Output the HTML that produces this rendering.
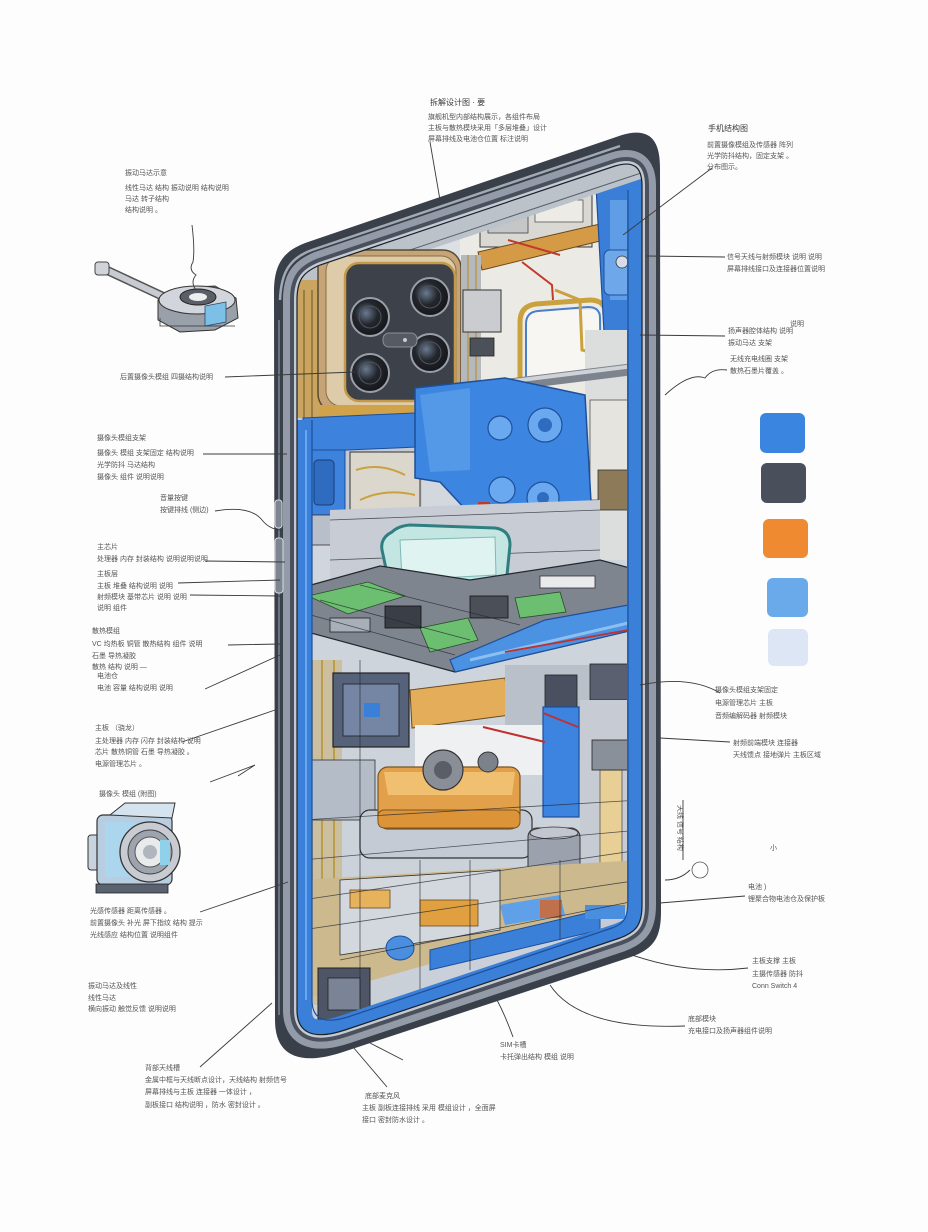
<!DOCTYPE html>
<html><head><meta charset="utf-8">
<style>
html,body{margin:0;padding:0;background:#fdfdfd;}
svg{display:block;}
text{font-family:"Liberation Sans","Noto Sans CJK SC",sans-serif;fill:#555;font-size:7px;}
.t{font-size:8px;fill:#3a3a3a;}
.ld{fill:none;stroke:#3a3a3a;stroke-width:0.9;}
.ln{fill:none;stroke:#23272e;stroke-width:0.8;opacity:0.75;}
</style></head><body>
<svg width="928" height="1232" viewBox="0 0 928 1232" xmlns="http://www.w3.org/2000/svg">
<defs>
<clipPath id="ic"><path d="M 297,300 C 297,280 303,272 320,265 L 615,166 C 635,160 642,168 642,186 L 642,905 C 642,925 636,932 620,938 L 345,1030 C 312,1041 297,1032 297,1010 Z"/></clipPath>
<linearGradient id="bg1" x1="0" y1="0" x2="0" y2="1">
<stop offset="0" stop-color="#dfe2e6"/><stop offset="0.5" stop-color="#cfd5dc"/><stop offset="1" stop-color="#c9cfd8"/>
</linearGradient>
<radialGradient id="lens" cx="0.4" cy="0.4" r="0.6">
<stop offset="0" stop-color="#6a7a90"/><stop offset="0.5" stop-color="#23262c"/><stop offset="1" stop-color="#15171b"/>
</radialGradient>
</defs>
<rect width="928" height="1232" fill="#fdfdfd"/>

<!-- ===== PHONE BODY ===== -->
<path d="M 274,292 C 274,262 285,250 308,242 L 622,135 C 650,127 660,140 660,168 L 661,912 C 661,940 652,950 628,958 L 340,1053 C 298,1066 275,1055 275,1020 Z" fill="#3a404a"/>
<path d="M 297,300 C 297,280 303,272 320,265 L 615,166 C 635,160 642,168 642,186 L 642,905 C 642,925 636,932 620,938 L 345,1030 C 312,1041 297,1032 297,1010 Z" fill="none" stroke="#939ba8" stroke-width="28"/>
<path d="M 297,300 C 297,280 303,272 320,265 L 615,166 C 635,160 642,168 642,186 L 642,905 C 642,925 636,932 620,938 L 345,1030 C 312,1041 297,1032 297,1010 Z" fill="none" stroke="#4a515c" stroke-width="14"/>
<path d="M 297,300 C 297,280 303,272 320,265 L 615,166 C 635,160 642,168 642,186 L 642,905 C 642,925 636,932 620,938 L 345,1030 C 312,1041 297,1032 297,1010 Z" fill="none" stroke="#c3cad4" stroke-width="6"/>
<path d="M 280,300 C 281,272 290,258 312,250 L 620,146" fill="none" stroke="#b4bcc8" stroke-width="2.5" opacity="0.85"/>
<path d="M 279,320 L 279,1015" fill="none" stroke="#6c7482" stroke-width="2"/>
<rect x="275" y="538" width="8" height="55" rx="3" fill="#7d8591" stroke="#d8dce2" stroke-width="1"/>
<rect x="275" y="500" width="7" height="28" rx="3" fill="#7d8591" stroke="#d8dce2" stroke-width="1"/>

<g clip-path="url(#ic)">
<rect x="290" y="150" width="360" height="900" fill="url(#bg1)"/>

<polygon points="460,200 642,150 642,400 460,410" fill="#eceae5"/>
<rect x="480" y="195" width="112" height="52" fill="#d9d8d2" stroke="#3a3a3a" stroke-width="1"/>
<rect x="488" y="203" width="40" height="30" fill="#c4c6c8" stroke="#444" stroke-width="0.8"/>
<rect x="535" y="200" width="48" height="22" fill="#ecebe6" stroke="#555" stroke-width="0.8"/>
<polygon points="478,252 600,224 604,240 482,270" fill="#d59a45" stroke="#6a4a20" stroke-width="1"/>
<path d="M 508,240 L 560,255" stroke="#c23a2a" stroke-width="2" fill="none"/>
<path d="M 522,262 L 552,285 L 553,300" stroke="#c23a2a" stroke-width="2" fill="none"/>
<rect x="525" y="310" width="75" height="70" fill="#f7f6f2"/>
<path d="M 520,385 L 520,322 Q 520,306 536,304 L 590,300 Q 606,300 606,316 L 608,400" fill="none" stroke="#c9a13f" stroke-width="5"/>
<path d="M 526,385 L 526,324 Q 526,312 538,311 L 588,307 Q 600,307 600,318 L 601,400" fill="none" stroke="#4a7fc8" stroke-width="2"/>
<path d="M 555,290 L 580,300 L 582,350 L 600,355" fill="none" stroke="#c9a13f" stroke-width="3"/>
<polygon points="596,186 642,170 642,332 604,332" fill="#3b7ed8" stroke="#1d4f9a" stroke-width="1.2"/>
<rect x="610" y="200" width="20" height="100" fill="#5f9de6"/>
<rect x="604" y="250" width="36" height="45" rx="6" fill="#6ea8ea" stroke="#1d4f9a" stroke-width="1"/>
<circle cx="622" cy="262" r="6" fill="#d6dde8" stroke="#333" stroke-width="0.8"/>
<rect x="585" y="330" width="57" height="230" fill="#dcdddd"/>
<path d="M 505,385 L 642,368" stroke="#7d848e" stroke-width="12" fill="none"/>
<path d="M 505,382 L 642,365" stroke="#cfd3d8" stroke-width="4" fill="none"/>
<rect x="590" y="400" width="40" height="100" fill="#e6e4de" stroke="#555" stroke-width="0.8"/>
<rect x="598" y="470" width="30" height="40" fill="#8c7a58" stroke="#333" stroke-width="0.8"/>

<polygon points="290,270 650,150 650,176 290,296" fill="#bcc2ca"/>
<path d="M 290,290 L 650,170" stroke="#5a616c" stroke-width="1" fill="none"/>

<rect x="297" y="280" width="24" height="140" fill="#c9a560"/>
<path d="M 304,290 L 304,418 M 312,290 L 312,418" stroke="#6a5220" stroke-width="1"/>

<rect x="318" y="250" width="143" height="162" rx="18" fill="#c5a478" stroke="#5a4a30" stroke-width="1.5"/>
<rect x="326" y="256" width="130" height="150" rx="15" fill="#ddcba9" stroke="#8a6d3d" stroke-width="1"/>
<rect x="345" y="263" width="110" height="138" rx="14" fill="#3d4149" stroke="#c49a4a" stroke-width="2.5"/>
<g stroke="#9aa0a8" stroke-width="2">
<circle cx="370" cy="317" r="19" fill="url(#lens)"/>
<circle cx="430" cy="297" r="19" fill="url(#lens)"/>
<circle cx="430" cy="353" r="19" fill="url(#lens)"/>
<circle cx="370" cy="373" r="19" fill="url(#lens)"/>
</g>
<g fill="none" stroke="#50555e" stroke-width="1">
<circle cx="370" cy="317" r="11"/><circle cx="430" cy="297" r="11"/><circle cx="430" cy="353" r="11"/><circle cx="370" cy="373" r="11"/>
</g>
<rect x="383" y="333" width="34" height="14" rx="6" fill="#555a63" stroke="#8a9098" stroke-width="1"/>
<circle cx="405" cy="340" r="2" fill="#ccc"/>
<rect x="320" y="405" width="142" height="14" fill="#d0a24a"/>
<rect x="461" y="255" width="20" height="165" fill="#b5b8bd"/>
<path d="M 468,255 L 468,420 M 476,255 L 476,420" stroke="#b8922e" stroke-width="1.2"/>
<rect x="463" y="290" width="38" height="42" fill="#cbcccf" stroke="#333" stroke-width="1"/>
<rect x="470" y="338" width="24" height="18" fill="#4c5058" stroke="#222" stroke-width="0.8"/>

<rect x="297" y="418" width="125" height="125" fill="#c4cad3"/>
<polygon points="303,418 436,412 440,446 303,452" fill="#3d82dc" stroke="#1d4f9a" stroke-width="1"/>
<rect x="303" y="450" width="42" height="65" fill="#3d82dc" stroke="#1d4f9a" stroke-width="1"/>
<rect x="314" y="460" width="20" height="45" rx="4" fill="#2f6cc0" stroke="#173e7a" stroke-width="1"/>
<rect x="350" y="452" width="70" height="58" fill="#dcd7cc" stroke="#333" stroke-width="1"/>
<path d="M 356,470 Q 380,462 405,475 M 360,500 Q 385,488 415,495" stroke="#c9a13f" stroke-width="2" fill="none"/>
<rect x="305" y="515" width="110" height="30" fill="#b9bfc9" stroke="#333" stroke-width="0.8"/>

<polygon points="415,388 505,378 585,395 592,520 560,548 480,525 440,482 415,478" fill="#3c86e2" stroke="#1d4f9a" stroke-width="1.5"/>
<polygon points="420,395 470,388 470,470 430,472" fill="#5a9cea" opacity="0.8"/>
<circle cx="545" cy="425" r="17" fill="#6aa9f0" stroke="#1d4f9a" stroke-width="1.2"/>
<circle cx="545" cy="425" r="7" fill="#2f6cc0"/>
<circle cx="500" cy="428" r="12" fill="#6aa9f0" stroke="#1d4f9a" stroke-width="1.2"/>
<circle cx="543" cy="498" r="16" fill="#6aa9f0" stroke="#1d4f9a" stroke-width="1.2"/>
<circle cx="543" cy="498" r="6" fill="#2f6cc0"/>
<circle cx="502" cy="490" r="13" fill="#6aa9f0" stroke="#1d4f9a" stroke-width="1.2"/>
<rect x="478" y="502" width="12" height="22" fill="#c03a2a"/>

<polygon points="330,510 600,500 600,585 330,595" fill="#c8cdd5"/>
<path d="M 330,520 L 600,510 M 330,560 L 600,550" class="ln"/>
<path d="M 392,532 Q 380,538 382,550 L 388,578 Q 390,590 405,592 L 490,590 Q 505,588 507,575 L 510,545 Q 510,530 495,528 L 410,525 Q 398,526 392,532 Z" fill="#c3e6e2" stroke="#2f7f80" stroke-width="3"/>
<path d="M 400,540 L 495,537 L 496,575 L 402,580 Z" fill="#dff3f0" stroke="#7fb8b6" stroke-width="1"/>

<polygon points="300,588 380,566 470,580 600,560 712,590 710,612 455,672 300,630" fill="#7e858f" stroke="#23272e" stroke-width="1.2"/>
<polygon points="308,596 368,582 405,596 348,614" fill="#6cbf70" stroke="#2a4a2a" stroke-width="0.8"/>
<polygon points="420,628 468,618 478,640 430,652" fill="#6cbf70" stroke="#2a4a2a" stroke-width="0.8"/>
<polygon points="515,598 560,592 566,612 520,618" fill="#6cbf70" stroke="#2a4a2a" stroke-width="0.8"/>
<rect x="385" y="606" width="36" height="22" fill="#3a3e46" stroke="#111" stroke-width="0.8"/>
<rect x="470" y="596" width="38" height="22" fill="#4a4f58" stroke="#111" stroke-width="0.8"/>
<rect x="540" y="576" width="55" height="12" fill="#e8eaec" stroke="#333" stroke-width="0.8"/>
<rect x="330" y="618" width="40" height="14" fill="#a9afb8" stroke="#222" stroke-width="0.8"/>
<path d="M 300,612 L 455,655 M 320,600 L 470,640 M 360,585 L 520,625" class="ln"/>
<polygon points="545,620 712,590 710,612 455,672 450,660" fill="#4b92e2" stroke="#1d4f9a" stroke-width="1.2"/>
<path d="M 470,660 L 705,605" stroke="#8cc0f0" stroke-width="3" fill="none"/>
<path d="M 505,652 L 662,624" stroke="#c03030" stroke-width="1.8" fill="none"/>
<path d="M 630,566 L 688,574 L 690,590" stroke="#c03030" stroke-width="2" fill="none"/>
<path d="M 640,638 L 692,646 L 694,656" stroke="#c03030" stroke-width="2" fill="none"/>

<rect x="302" y="660" width="40" height="345" fill="#cbbf9f"/>
<path d="M 312,660 L 312,990 M 322,660 L 322,990 M 334,660 L 334,990" stroke="#b8922e" stroke-width="1.5"/>
<path d="M 306,600 L 306,900" stroke="#5aa060" stroke-width="3"/>
<rect x="333" y="673" width="76" height="74" fill="#56627a" stroke="#222" stroke-width="1.2"/>
<rect x="343" y="684" width="56" height="52" fill="#7586a4" stroke="#2a2f3a" stroke-width="1"/>
<rect x="364" y="703" width="16" height="14" fill="#3a7fd8"/>
<polygon points="410,690 505,678 510,715 412,728" fill="#e4ad5a" stroke="#6a4a20" stroke-width="1"/>
<rect x="505" y="665" width="135" height="95" fill="#b9c0ca"/>
<rect x="545" y="675" width="32" height="34" fill="#4a5060" stroke="#222" stroke-width="0.8"/>
<rect x="590" y="664" width="38" height="36" fill="#5a6070" stroke="#222" stroke-width="0.8"/>
<rect x="415" y="725" width="130" height="50" fill="#eef0f2"/>
<rect x="543" y="707" width="36" height="110" fill="#3d84e0" stroke="#1d4f9a" stroke-width="1.2"/>
<path d="M 483,727 L 545,742 M 543,713 L 578,727" stroke="#c03030" stroke-width="2" fill="none"/>
<rect x="580" y="700" width="60" height="250" fill="#c7ccd4"/>
<rect x="600" y="770" width="22" height="130" fill="#e8cf96" stroke="#555" stroke-width="0.8"/>
<rect x="592" y="740" width="40" height="30" fill="#8a909a" stroke="#222" stroke-width="0.8"/>
<rect x="305" y="760" width="70" height="60" fill="#b4bcc8" stroke="#333" stroke-width="0.8"/>

<rect x="360" y="810" width="172" height="48" rx="10" fill="#c5cbd5" stroke="#333" stroke-width="1.2"/>
<rect x="378" y="767" width="142" height="62" rx="10" fill="#e3a04a" stroke="#7a5520" stroke-width="1.2"/>
<polygon points="384,772 515,772 512,795 388,795" fill="#f0c070"/>
<rect x="378" y="810" width="142" height="18" rx="6" fill="#dd9438" stroke="#7a5520" stroke-width="1"/>
<circle cx="443" cy="770" r="20" fill="#8a8e96" stroke="#333" stroke-width="1.2"/>
<circle cx="443" cy="770" r="9" fill="#5a5e66"/>
<circle cx="488" cy="762" r="10" fill="#7d828a" stroke="#333" stroke-width="1"/>
<rect x="528" y="828" width="52" height="52" rx="9" fill="#9ba2ae" stroke="#333" stroke-width="1"/>
<ellipse cx="554" cy="833" rx="24" ry="6" fill="#c2c7cf" stroke="#333" stroke-width="0.8"/>
<rect x="503" y="870" width="45" height="30" fill="#4e5668" stroke="#222" stroke-width="1"/>

<polygon points="302,880 640,860 640,905 302,1000" fill="#cdb98e"/>
<polygon points="340,880 500,870 500,930 340,955" fill="#d3d8de" stroke="#333" stroke-width="0.8"/>
<rect x="420" y="900" width="58" height="26" fill="#e0a040" stroke="#6a4a20" stroke-width="0.8"/>
<rect x="350" y="890" width="40" height="18" fill="#e6b25c" stroke="#6a4a20" stroke-width="0.8"/>
<ellipse cx="400" cy="948" rx="14" ry="12" fill="#4a8ee0" stroke="#1d4f9a" stroke-width="1"/>
<rect x="318" y="968" width="52" height="52" fill="#4d5566" stroke="#222" stroke-width="1"/>
<rect x="328" y="978" width="32" height="32" fill="#7a8496" stroke="#222" stroke-width="0.8"/>
<polygon points="430,950 600,910 600,930 430,970" fill="#3b80d8" stroke="#1d4f9a" stroke-width="1"/>
<polygon points="500,905 560,895 565,915 505,925" fill="#5fa0e8"/>
<rect x="540" y="900" width="22" height="18" fill="#c0704a"/>
<rect x="585" y="905" width="40" height="14" fill="#4a8ee0"/>
<path d="M 302,900 L 640,850 M 302,930 L 640,880 M 340,960 L 640,900 M 302,860 L 640,830 M 302,820 L 640,800" class="ln"/>
<path d="M 360,660 L 360,1000 M 420,860 L 420,990 M 470,860 L 470,970 M 560,860 L 560,940" class="ln"/>

<path d="M 297,420 L 297,1010 C 297,1032 312,1041 345,1030 L 620,938 C 636,932 642,925 642,905 L 642,186" fill="none" stroke="#3a7fd8" stroke-width="30"/>
<path d="M 312,420 L 312,1000 C 312,1020 325,1024 348,1017 L 612,928 C 624,924 628,918 628,900 L 628,190" fill="none" stroke="#1d4f9a" stroke-width="1.2"/>
<path d="M 306,430 L 306,1000" stroke="#6aa6ee" stroke-width="2"/>
</g>
<path d="M 297,300 C 297,280 303,272 320,265 L 615,166 C 635,160 642,168 642,186 L 642,905 C 642,925 636,932 620,938 L 345,1030 C 312,1041 297,1032 297,1010 Z" fill="none" stroke="#1c2027" stroke-width="1.2"/>

<rect x="760" y="413" width="45" height="40" rx="6" fill="#3a85e0"/>
<rect x="761" y="463" width="45" height="40" rx="6" fill="#4a4f5c"/>
<rect x="763" y="519" width="45" height="39" rx="6" fill="#f08a30"/>
<rect x="767" y="578" width="41" height="39" rx="6" fill="#6aaaea"/>
<rect x="768" y="629" width="40" height="37" rx="6" fill="#dde6f5"/>

<path d="M 102,268 L 175,302" stroke="#555" stroke-width="9" stroke-linecap="round"/>
<path d="M 102,268 L 175,302" stroke="#c8ccd2" stroke-width="6" stroke-linecap="round"/>
<rect x="95" y="262" width="14" height="13" rx="3" fill="#d0d3d8" stroke="#444" stroke-width="1"/>
<polygon points="158,300 180,288 215,286 236,298 238,318 215,330 180,332 158,320" fill="#9aa0aa" stroke="#333" stroke-width="1"/>
<ellipse cx="197" cy="300" rx="38" ry="14" fill="#d2d6dc" stroke="#333" stroke-width="1"/>
<polygon points="205,306 226,302 226,322 205,326" fill="#7cc0e8" stroke="#2a4a6a" stroke-width="0.8"/>
<ellipse cx="198" cy="297" rx="18" ry="8" fill="#5a5e66" stroke="#222" stroke-width="1"/>
<ellipse cx="198" cy="297" rx="9" ry="4" fill="#eceef0"/>
<path d="M 160,318 L 160,326 L 235,326" stroke="#333" stroke-width="0.8" fill="none"/>

<rect x="88" y="835" width="20" height="35" rx="3" fill="#c9d3de" stroke="#333" stroke-width="1"/>
<rect x="97" y="815" width="75" height="70" rx="6" fill="#b8cde0" stroke="#333" stroke-width="1.2"/>
<rect x="105" y="822" width="30" height="55" fill="#a8d8f0" opacity="0.8"/>
<polygon points="110,815 125,803 175,803 172,818" fill="#d5e3ee" stroke="#333" stroke-width="1"/>
<circle cx="150" cy="852" r="30" fill="#c8ccd2" stroke="#333" stroke-width="1.3"/>
<circle cx="150" cy="852" r="22" fill="#9da4ae" stroke="#444" stroke-width="1"/>
<circle cx="150" cy="852" r="15" fill="#e8eaec" stroke="#555" stroke-width="1"/>
<circle cx="150" cy="852" r="7" fill="#b0b6be"/>
<rect x="96" y="884" width="72" height="9" fill="#5a6270" stroke="#222" stroke-width="0.8"/>
<rect x="160" y="840" width="10" height="25" fill="#8fd0ea"/>

<path class="ld" d="M 430,142 L 440,200"/>
<path class="ld" d="M 712,168 L 623,235"/>
<path class="ld" d="M 646,256 L 725,257"/>
<path class="ld" d="M 640,335 L 725,336"/>
<path class="ld" d="M 665,395 Q 690,372 705,378 Q 712,368 727,370"/>
<path class="ld" d="M 640,685 Q 690,675 720,693"/>
<path class="ld" d="M 660,738 L 730,742"/>
<path class="ld" d="M 660,903 L 745,896"/>
<path class="ld" d="M 632,955 Q 690,975 748,968"/>
<path class="ld" d="M 550,985 Q 580,1030 685,1026"/>
<path class="ld" d="M 497,1000 Q 505,1015 513,1037"/>
<path class="ld" d="M 353,1047 L 387,1087"/>
<path class="ld" d="M 370,1043 L 403,1060"/>
<path class="ld" d="M 200,1067 L 272,1003"/>
<path class="ld" d="M 200,912 L 288,882"/>
<path class="ld" d="M 182,742 L 275,710"/>
<path class="ld" d="M 210,782 L 255,765 L 238,776"/>
<path class="ld" d="M 205,689 L 280,655"/>
<path class="ld" d="M 228,645 L 280,644"/>
<path class="ld" d="M 178,583 L 280,580"/>
<path class="ld" d="M 190,595 L 280,596"/>
<path class="ld" d="M 205,561 L 285,562"/>
<path class="ld" d="M 215,511 Q 250,505 262,520 Q 270,530 282,530"/>
<path class="ld" d="M 203,454 L 287,454"/>
<path class="ld" d="M 225,377 L 355,372"/>
<path class="ld" d="M 192,225 Q 195,250 193,262 Q 188,270 196,275 Q 190,282 196,290"/>
<path class="ld" d="M 683,800 L 683,860 M 690,870 Q 680,880 665,880"/>
<circle cx="700" cy="870" r="8" fill="none" stroke="#555" stroke-width="0.8"/>

<text x="430" y="105" class="t">拆解设计图 · 要</text>
<text x="428" y="119">旗舰机型内部结构展示，各组件布局</text>
<text x="428" y="130">主板与散热模块采用「多层堆叠」设计</text>
<text x="428" y="141">屏幕排线及电池仓位置 标注说明</text>

<text x="708" y="131" class="t">手机结构图</text>
<text x="707" y="147">前置摄像模组及传感器 阵列</text>
<text x="707" y="158">光学防抖结构，固定支架 。</text>
<text x="707" y="169">分布图示。</text>

<text x="727" y="259">信号天线与射频模块 说明 说明</text>
<text x="727" y="271">屏幕排线接口及连接器位置说明</text>
<text x="728" y="333">扬声器腔体结构 说明</text>
<text x="728" y="345">振动马达 支架</text>
<text x="790" y="326">说明</text>
<text x="730" y="361">无线充电线圈 支架</text>
<text x="730" y="373">散热石墨片覆盖 。</text>

<text x="715" y="692">摄像头模组支架固定</text>
<text x="715" y="705">电源管理芯片 主板</text>
<text x="715" y="718">音频编解码器 射频模块</text>
<text x="733" y="745">射频前端模块 连接器</text>
<text x="733" y="757">天线馈点 接地弹片 主板区域</text>
<text x="770" y="850">小</text>
<text x="748" y="889">电池 )</text>
<text x="748" y="901">锂聚合物电池仓及保护板</text>
<text x="752" y="963">主板支撑 主板</text>
<text x="752" y="976">主摄传感器 防抖</text>
<text x="752" y="988">Conn Switch 4</text>
<text x="688" y="1021">底部模块</text>
<text x="688" y="1033">充电接口及扬声器组件说明</text>
<text x="500" y="1047">SIM卡槽</text>
<text x="500" y="1059">卡托弹出结构 模组 说明</text>
<g transform="translate(678,805) rotate(90)"><text x="0" y="0">天线 信号 结构</text></g>

<text x="365" y="1098">底部麦克风</text>
<text x="362" y="1110">主板 副板连接排线 采用 模组设计 ，全面屏</text>
<text x="362" y="1122">接口 密封防水设计 。</text>

<text x="145" y="1070">背部天线槽</text>
<text x="145" y="1082">金属中框与天线断点设计，天线结构 射频信号</text>
<text x="145" y="1094">屏幕排线与主板 连接器 一体设计 ，</text>
<text x="145" y="1107">副板接口 结构说明 ，防水 密封设计 。</text>

<text x="88" y="988">振动马达及线性</text>
<text x="88" y="1000">线性马达</text>
<text x="88" y="1011">横向振动 触觉反馈 说明说明</text>

<text x="90" y="913">光感传感器 距离传感器 。</text>
<text x="90" y="925">前置摄像头 补光 屏下指纹 结构 提示</text>
<text x="90" y="937">光线感应 结构位置 说明组件</text>

<text x="99" y="796">摄像头 模组 (附图)</text>

<text x="95" y="730">主板 （骁龙）</text>
<text x="95" y="743">主处理器 内存 闪存 封装结构 说明</text>
<text x="95" y="754">芯片 散热铜管 石墨 导热凝胶 。</text>
<text x="95" y="766">电源管理芯片 。</text>

<text x="97" y="678">电池仓</text>
<text x="97" y="690">电池 容量 结构说明 说明</text>

<text x="92" y="633">散热模组</text>
<text x="92" y="646">VC 均热板 铜管 散热结构 组件 说明</text>
<text x="92" y="658">石墨 导热凝胶</text>
<text x="92" y="669">散热 结构 说明 —</text>

<text x="97" y="576">主板层</text>
<text x="97" y="588">主板 堆叠 结构说明 说明</text>
<text x="97" y="599">射频模块 基带芯片 说明 说明</text>
<text x="97" y="610">说明 组件</text>

<text x="97" y="549">主芯片</text>
<text x="97" y="561">处理器 内存 封装结构 说明说明说明</text>

<text x="160" y="500">音量按键</text>
<text x="160" y="512">按键排线 (侧边)</text>

<text x="97" y="440">摄像头模组支架</text>
<text x="97" y="455">摄像头 模组 支架固定 结构说明</text>
<text x="97" y="467">光学防抖 马达结构</text>
<text x="97" y="479">摄像头 组件 说明说明</text>

<text x="120" y="379">后置摄像头模组 四摄结构说明</text>

<text x="125" y="175">振动马达示意</text>
<text x="125" y="190">线性马达 结构 振动说明 结构说明</text>
<text x="125" y="201">马达 转子结构</text>
<text x="125" y="212">结构说明 。</text>
</svg>
</body></html>
